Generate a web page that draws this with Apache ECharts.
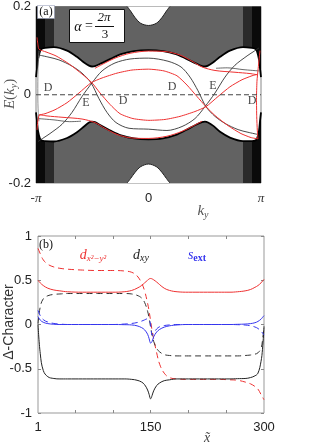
<!DOCTYPE html>
<html>
<head>
<meta charset="utf-8">
<script src="https://cdn.jsdelivr.net/npm/echarts@6/dist/echarts.min.js"></script>
<style>
  html, body { margin: 0; padding: 0; background: #fff; }
  #chart { width: 325px; height: 444px; }
</style>
</head>
<body>
<div id="chart"></div>
<script>
// ---- panel (a): ky in units of pi, E(ky) ----
const kyTickValues = [-1, 0, 1]
const kyTickLabels = ['-π', '0', 'π']
const eTickValues = [-0.2, 0, 0.2]
const eTickLabels = ['-0.2', '0', '0.2']

// edges of the bulk continuum (gap side)
const bulkUpper = [[-1, 0.04], [-0.991, 0.06], [-0.982, 0.08], [-0.964, 0.099], [-0.947, 0.104], [-0.92, 0.106], [-0.84, 0.108], [-0.724, 0.1], [-0.636, 0.086], [-0.573, 0.073], [-0.529, 0.066], [-0.502, 0.064], [-0.476, 0.065], [-0.422, 0.071], [-0.333, 0.082], [-0.244, 0.092], [-0.129, 0.099], [0, 0.101], [0.129, 0.099], [0.244, 0.092], [0.333, 0.082], [0.422, 0.071], [0.476, 0.065], [0.502, 0.064], [0.529, 0.066], [0.573, 0.073], [0.636, 0.086], [0.724, 0.1], [0.84, 0.108], [0.92, 0.106], [0.947, 0.104], [0.964, 0.099], [0.982, 0.08], [0.991, 0.06], [1, 0.04]]
const bulkLower = [[-1, -0.04], [-0.991, -0.06], [-0.982, -0.082], [-0.964, -0.1], [-0.947, -0.104], [-0.92, -0.105], [-0.84, -0.106], [-0.724, -0.098], [-0.636, -0.085], [-0.573, -0.072], [-0.529, -0.063], [-0.502, -0.061], [-0.476, -0.062], [-0.422, -0.07], [-0.333, -0.082], [-0.244, -0.092], [-0.129, -0.099], [0, -0.101], [0.129, -0.099], [0.244, -0.091], [0.333, -0.08], [0.422, -0.068], [0.476, -0.062], [0.502, -0.061], [0.529, -0.063], [0.573, -0.07], [0.636, -0.084], [0.724, -0.097], [0.84, -0.105], [0.92, -0.105], [0.947, -0.104], [0.964, -0.1], [0.982, -0.082], [0.991, -0.06], [1, -0.04]]
const holeTop = [[-0.19, 0.2], [-0.16, 0.19], [-0.12, 0.175], [-0.07, 0.162], [0, 0.157], [0.07, 0.162], [0.12, 0.175], [0.16, 0.19], [0.19, 0.2]]
const holeBottom = [[-0.19, -0.2], [-0.16, -0.19], [-0.12, -0.176], [-0.07, -0.163], [0, -0.157], [0.07, -0.163], [0.12, -0.176], [0.16, -0.19], [0.19, -0.2]]

// in-gap states
const redArchTop = [[-0.476, 0.06], [-0.387, 0.072], [-0.298, 0.083], [-0.164, 0.094], [0, 0.099], [0.147, 0.098], [0.28, 0.09], [0.387, 0.076], [0.476, 0.063], [0.591, 0.055], [0.769, 0.051], [0.902, 0.048], [0.973, 0.045]]
const redArchBottom = [[-0.973, -0.045], [-0.902, -0.048], [-0.769, -0.051], [-0.591, -0.055], [-0.476, -0.063], [-0.387, -0.076], [-0.28, -0.09], [-0.147, -0.098], [0, -0.099], [0.164, -0.094], [0.298, -0.083], [0.387, -0.072], [0.476, -0.06]]
const redWaveA = [[-0.991, 0.13], [-0.982, 0.112], [-0.973, 0.103], [-0.911, 0.097], [-0.822, 0.088], [-0.707, 0.07], [-0.591, 0.047], [-0.502, 0.027], [-0.431, 0.004], [-0.342, -0.022], [-0.253, -0.043], [-0.138, -0.054], [0.004, -0.058], [0.147, -0.056], [0.28, -0.049], [0.413, -0.038], [0.511, -0.027], [0.618, -0.004], [0.724, 0.018], [0.831, 0.034], [0.92, 0.043], [0.964, 0.046]]
const redWaveB = [[0.991, 0.1], [0.975, 0.06], [0.964, 0.03], [0.96, -0.01], [0.962, -0.05], [0.967, -0.08], [0.973, -0.1], [0.911, -0.097], [0.822, -0.088], [0.707, -0.07], [0.591, -0.047], [0.511, -0.027], [0.431, -0.004], [0.342, 0.022], [0.253, 0.043], [0.138, 0.054], [0, 0.058], [-0.147, 0.056], [-0.28, 0.049], [-0.413, 0.038], [-0.511, 0.027], [-0.618, 0.004], [-0.724, -0.018], [-0.831, -0.034], [-0.92, -0.043], [-0.973, -0.047], [-0.991, -0.08]]
const greyWaveA = [[-0.982, -0.106], [-0.929, -0.097], [-0.876, -0.088], [-0.769, -0.067], [-0.68, -0.04], [-0.591, -0.004], [-0.502, 0.027], [-0.413, 0.054], [-0.298, 0.072], [-0.164, 0.081], [0, 0.083], [0.173, 0.076], [0.289, 0.063], [0.369, 0.04], [0.44, 0.009], [0.511, -0.027], [0.591, -0.049], [0.68, -0.065], [0.796, -0.079], [0.884, -0.085], [0.973, -0.09]]
const greyWaveB = [[-0.973, 0.09], [-0.884, 0.085], [-0.796, 0.079], [-0.68, 0.065], [-0.591, 0.049], [-0.511, 0.027], [-0.44, -0.009], [-0.369, -0.04], [-0.289, -0.063], [-0.173, -0.076], [0, -0.078], [0.164, -0.081], [0.298, -0.072], [0.413, -0.054], [0.502, -0.027], [0.591, 0.004], [0.68, 0.04], [0.769, 0.067], [0.876, 0.088], [0.929, 0.097], [0.982, 0.106]]
const greyEdgeLeft = [[-0.973, 0.1], [-0.982, 0.06], [-0.984, 0.0], [-0.98, -0.04], [-0.973, -0.06]]
const greyFlatLeft = [[-0.982, -0.054], [-0.84, -0.057], [-0.7, -0.061], [-0.6, -0.06]]
const greyFlatRight = [[0.6, 0.06], [0.7, 0.061], [0.84, 0.057], [0.982, 0.054]]
const zeroLine = [[-1, 0], [1, 0]]

const markText = ['D', 'E', 'D', 'D', 'E', 'D']
const markKy = [-0.893, -0.556, -0.227, 0.209, 0.573, 0.92]
const markE = [0.016, -0.018, -0.013, 0.018, 0.02, -0.013]

// ---- panel (b): Delta-character along x~ ----
const xTickValues = [50, 100, 150, 200, 250]
const xLabelValues = [1, 150, 300]
const yTickValues = [-1, -0.5, 0, 0.5, 1]
const yTickLabels = ['-1', '-0.5', '0', '0.5', '1']
const xTilde = [1, 4, 8, 14, 22, 30, 40, 60, 80, 100, 115, 125, 132, 138, 142, 146, 148, 150, 152, 154, 158, 162, 168, 175, 185, 200, 220, 240, 255, 265, 275, 282, 288, 292, 296, 298, 300]
const dx2Dashed = [0.86, 0.8, 0.73, 0.68, 0.65, 0.635, 0.625, 0.615, 0.61, 0.61, 0.605, 0.59, 0.55, 0.47, 0.38, 0.24, 0.15, 0.04, -0.07, -0.16, -0.32, -0.45, -0.55, -0.6, -0.615, -0.62, -0.62, -0.62, -0.625, -0.63, -0.65, -0.67, -0.7, -0.73, -0.79, -0.82, -0.85]
const dx2Solid = [0.5, 0.47, 0.44, 0.41, 0.39, 0.38, 0.37, 0.365, 0.365, 0.365, 0.37, 0.385, 0.41, 0.44, 0.47, 0.5, 0.515, 0.52, 0.515, 0.505, 0.48, 0.45, 0.41, 0.385, 0.37, 0.365, 0.365, 0.365, 0.365, 0.37, 0.38, 0.395, 0.42, 0.44, 0.47, 0.49, 0.51]
const dxyDashed = [0.01, 0.2, 0.29, 0.325, 0.34, 0.345, 0.35, 0.35, 0.35, 0.35, 0.35, 0.345, 0.33, 0.3, 0.25, 0.15, 0.07, -0.03, -0.12, -0.19, -0.27, -0.31, -0.34, -0.35, -0.355, -0.355, -0.355, -0.355, -0.355, -0.355, -0.35, -0.345, -0.335, -0.32, -0.27, -0.18, -0.02]
const dxySolid = [0.0, -0.33, -0.52, -0.59, -0.61, -0.615, -0.615, -0.615, -0.615, -0.615, -0.615, -0.62, -0.63, -0.65, -0.68, -0.74, -0.79, -0.84, -0.8, -0.75, -0.69, -0.66, -0.635, -0.625, -0.615, -0.615, -0.615, -0.615, -0.615, -0.612, -0.61, -0.6, -0.58, -0.55, -0.42, -0.28, -0.03]
const sextSolid = [0.09, 0.05, 0.025, 0.01, 0.003, 0, 0, 0, 0, 0, -0.002, -0.005, -0.015, -0.035, -0.06, -0.11, -0.16, -0.21, -0.19, -0.14, -0.085, -0.055, -0.03, -0.015, -0.005, 0, 0, 0, 0, 0.002, 0.005, 0.01, 0.02, 0.035, 0.06, 0.08, 0.1]
const sextDashed = [0.16, 0.1, 0.055, 0.028, 0.012, 0.005, 0, 0, 0, 0, 0.005, 0.012, 0.022, 0.038, 0.052, 0.065, 0.055, 0.0, -0.12, -0.1, -0.05, -0.025, -0.012, -0.005, 0, 0, 0, 0, 0, -0.002, -0.006, -0.014, -0.028, -0.045, -0.075, -0.095, -0.12]

const serif = '"Liberation Serif", "DejaVu Serif", serif'
const sans = '"Liberation Sans", Arial, sans-serif'
const red = '#ee3030'
const blue = '#3535ee'

const chart = echarts.init(document.getElementById('chart'), null, { renderer: 'canvas' })

const bandLine = (data, color, width, z, extra) => ({
  type: 'line', xAxisIndex: 0, yAxisIndex: 0, data, symbol: 'none', smooth: 0.3,
  silent: true, z, lineStyle: { color, width }, ...extra,
})
// dense band lines read as grey; near the zone boundary they are almost solid
const bulk = (data, origin, color, z, width) => bandLine(data, '#000', width, z, {
  areaStyle: { origin, color, opacity: 1 },
})
const edgeSide = (data, lo, hi) => data.filter((p) => Math.abs(p[0]) >= lo && Math.abs(p[0]) <= hi)
const leftOf = (data) => data.filter((p) => p[0] < 0)
const rightOf = (data) => data.filter((p) => p[0] > 0)
const charLine = (vals, color, dashed) => ({
  type: 'line', xAxisIndex: 1, yAxisIndex: 1, symbol: 'none', smooth: 0.4, silent: true,
  data: xTilde.map((x, i) => [x, vals[i]]),
  lineStyle: { color, width: 1, type: dashed ? [6, 4] : 'solid' },
})
const findLabel = (vals, labels, v) => {
  const i = vals.findIndex((t) => Math.abs(t - v) < 1e-9)
  return i < 0 ? '' : labels[i]
}
const txt = (x, y, text, size, color, extra) => ({
  type: 'text', x, y, z: 100,
  style: { text, fontSize: size, fontFamily: serif, fill: color || '#111', align: 'center', verticalAlign: 'middle', ...extra },
})
const noLine = { show: false, onZero: false }
const inTick = { show: true, inside: true, length: 3, lineStyle: { color: '#888' } }

const edgeSeries = []
;[[0.8, 1, '#2a2a2a'], [0.9, 1, '#0a0a0a']].forEach(([lo, hi, c]) => {
  ;[leftOf, rightOf].forEach((side) => {
    edgeSeries.push(bulk(side(edgeSide(bulkUpper, lo, hi)), 'end', c, 1, 0))
    edgeSeries.push(bulk(side(edgeSide(bulkLower, lo, hi)), 'start', c, 1, 0))
  })
})

chart.setOption({
  animation: false,
  grid: [
    { left: 36, top: 5, width: 225, height: 178, show: true, borderColor: '#888', borderWidth: 1 },
    { left: 38, top: 236, width: 226, height: 177, show: true, borderColor: '#999', borderWidth: 1 },
  ],
  xAxis: [
    {
      gridIndex: 0, type: 'value', min: -1, max: 1,
      axisLine: noLine, axisTick: { show: false }, splitLine: { show: false },
      axisLabel: {
        customValues: kyTickValues, margin: 9, showMinLabel: true, showMaxLabel: true,
        formatter: (v) => {
          const s = findLabel(kyTickValues, kyTickLabels, v)
          return s === '0' ? '{n|0}' : '{p|' + s + '}'
        },
        rich: {
          n: { fontSize: 13, fontFamily: sans, color: '#222' },
          p: { fontSize: 13, fontFamily: serif, fontStyle: 'italic', color: '#333' },
        },
      },
    },
    {
      gridIndex: 1, type: 'value', min: 1, max: 300, position: 'bottom',
      axisLine: noLine, splitLine: { show: false },
      axisTick: { ...inTick, customValues: xTickValues },
      axisLabel: { customValues: xLabelValues, margin: 8, fontSize: 13, fontFamily: sans, color: '#222', showMinLabel: true, showMaxLabel: true },
    },
    {
      gridIndex: 1, type: 'value', min: 1, max: 300, position: 'top',
      axisLine: noLine, splitLine: { show: false }, axisLabel: { show: false },
      axisTick: { ...inTick, customValues: xTickValues },
    },
  ],
  yAxis: [
    {
      gridIndex: 0, type: 'value', min: -0.2, max: 0.2, interval: 0.2,
      axisLine: noLine, axisTick: { show: false }, splitLine: { show: false },
      axisLabel: { margin: 5, fontSize: 13, fontFamily: sans, color: '#222', formatter: (v) => findLabel(eTickValues, eTickLabels, v) },
    },
    {
      gridIndex: 1, type: 'value', min: -1, max: 1, interval: 0.5, position: 'left',
      axisLine: noLine, splitLine: { show: false }, axisTick: inTick,
      axisLabel: { margin: 6, fontSize: 13, fontFamily: sans, color: '#222', formatter: (v) => findLabel(yTickValues, yTickLabels, v) },
    },
    {
      gridIndex: 1, type: 'value', min: -1, max: 1, interval: 0.5, position: 'right',
      axisLine: noLine, splitLine: { show: false }, axisLabel: { show: false }, axisTick: inTick,
    },
  ],
  series: [
    bulk(bulkUpper, 'end', '#626262', 1, 1.8),
    bulk(bulkLower, 'start', '#626262', 1, 1.8),
    ...edgeSeries,
    bandLine(holeTop, '#222', 1, 2, { areaStyle: { origin: 'end', color: '#fff', opacity: 1 } }),
    bandLine(holeBottom, '#222', 1, 2, { areaStyle: { origin: 'start', color: '#fff', opacity: 1 } }),
    bandLine(greyEdgeLeft, '#777', 0.8, 3),
    bandLine(greyFlatLeft, '#444', 0.8, 3),
    bandLine(greyFlatRight, '#444', 0.8, 3),
    bandLine(greyWaveA, '#333', 0.9, 3),
    bandLine(greyWaveB, '#333', 0.9, 3),
    bandLine(redArchTop, red, 1, 4),
    bandLine(redArchBottom, red, 1, 4),
    bandLine(redWaveA, red, 1, 4, { smooth: 0.2 }),
    bandLine(redWaveB, red, 1, 4, { smooth: 0.2 }),
    bandLine(zeroLine, '#444', 1, 5, { smooth: false, lineStyle: { color: '#444', width: 1, type: [5, 3] } }),
    {
      type: 'scatter', xAxisIndex: 0, yAxisIndex: 0, symbolSize: 0, silent: true, z: 6,
      data: markKy.map((k, i) => ({ value: [k, markE[i]], label: { formatter: markText[i] } })),
      label: { show: true, position: 'inside', fontSize: 12, fontFamily: serif, color: '#111' },
    },
    charLine(dx2Dashed, red, true),
    charLine(dx2Solid, red, false),
    charLine(dxyDashed, '#333', true),
    charLine(dxySolid, '#222', false),
    charLine(sextDashed, blue, true),
    charLine(sextSolid, blue, false),
  ],
  graphic: [
    { type: 'rect', z: 100, shape: { x: 37.5, y: 5.5, width: 17, height: 13 }, style: { fill: '#fff', stroke: '#8890b0', lineWidth: 1, lineDash: [1, 1] } },
    txt(46, 12, '(a)', 12),
    { type: 'rect', z: 100, shape: { x: 69.5, y: 9.5, width: 55, height: 33 }, style: { fill: '#fff', stroke: '#111', lineWidth: 1 } },
    txt(78, 27, 'α', 14, '#111', { fontStyle: 'italic' }),
    txt(89, 26, '=', 14),
    txt(104, 18, '2π', 13, '#111', { fontStyle: 'italic' }),
    { type: 'line', z: 100, shape: { x1: 95, y1: 26.5, x2: 114, y2: 26.5 }, style: { stroke: '#111', lineWidth: 1 } },
    txt(105, 35, '3', 13),
    {
      type: 'text', x: 10, y: 94, rotation: Math.PI / 2, z: 100,
      style: {
        text: '{i|E}{n|(}{i|k}{s|y}{n|)}', align: 'center', verticalAlign: 'middle',
        rich: {
          i: { fontSize: 15, fontFamily: serif, fontStyle: 'italic', fill: '#555' },
          n: { fontSize: 15, fontFamily: serif, fill: '#555' },
          s: { fontSize: 10, fontFamily: serif, fontStyle: 'italic', fill: '#555', padding: [8, 0, 0, 0] },
        },
      },
    },
    {
      type: 'text', x: 203, y: 211, z: 100,
      style: {
        text: '{i|k}{s|y}', align: 'center', verticalAlign: 'middle',
        rich: {
          i: { fontSize: 15, fontFamily: serif, fontStyle: 'italic', fill: '#555' },
          s: { fontSize: 10, fontFamily: serif, fontStyle: 'italic', fill: '#555', padding: [8, 0, 0, 0] },
        },
      },
    },
    txt(46, 245, '(b)', 12),
    {
      type: 'text', x: 93, y: 255, z: 100,
      style: {
        text: '{i|d}{s|x²−y²}', align: 'center', verticalAlign: 'middle',
        rich: {
          i: { fontSize: 14, fontFamily: serif, fontStyle: 'italic', fill: red },
          s: { fontSize: 9, fontFamily: serif, fontStyle: 'italic', fill: red, padding: [7, 0, 0, 0] },
        },
      },
    },
    {
      type: 'text', x: 141, y: 255, z: 100,
      style: {
        text: '{i|d}{s|xy}', align: 'center', verticalAlign: 'middle',
        rich: {
          i: { fontSize: 14, fontFamily: serif, fontStyle: 'italic', fill: '#222' },
          s: { fontSize: 10, fontFamily: serif, fontStyle: 'italic', fill: '#222', padding: [7, 0, 0, 0] },
        },
      },
    },
    {
      type: 'text', x: 197, y: 255, z: 100,
      style: {
        text: '{i|s}{s|ext}', align: 'center', verticalAlign: 'middle',
        rich: {
          i: { fontSize: 14, fontFamily: serif, fontStyle: 'italic', fill: blue },
          s: { fontSize: 10, fontFamily: serif, fontWeight: 'bold', fill: blue, padding: [6, 0, 0, 0] },
        },
      },
    },
    {
      type: 'text', x: 9, y: 322, rotation: Math.PI / 2, z: 100,
      style: { text: 'Δ-Character', fontSize: 14, fontFamily: sans, fill: '#333', align: 'center', verticalAlign: 'middle' },
    },
    txt(207, 438, 'x̃', 14, '#444', { fontStyle: 'italic' }),
  ],
})
</script>
</body>
</html>
